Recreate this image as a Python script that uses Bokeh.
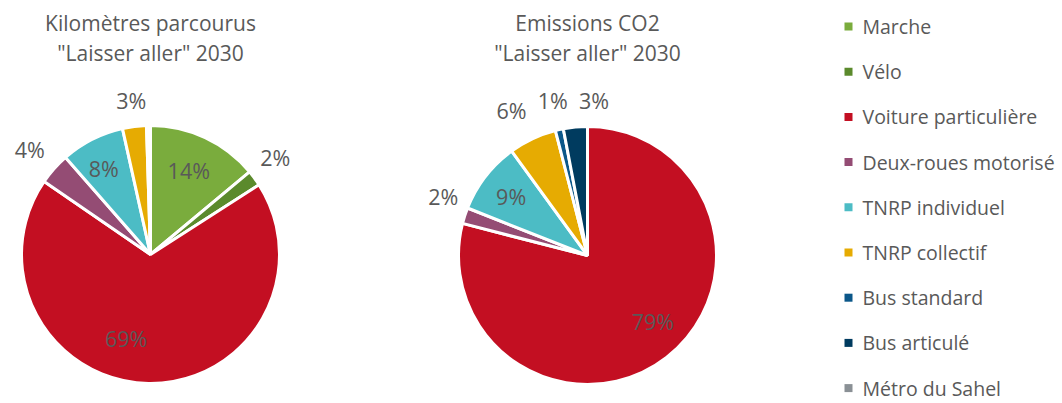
import math
from bokeh.plotting import figure
from bokeh.models import Range1d, ColumnDataSource
from bokeh.embed import file_html
from bokeh.resources import INLINE
from bokeh.core.properties import value

# ---------------- data ----------------
categories = ["Marche", "Vélo", "Voiture particulière", "Deux-roues motorisé",
              "TNRP individuel", "TNRP collectif", "Bus standard", "Bus articulé",
              "Métro du Sahel"]
km_2030 = [14, 2, 69, 4, 8, 3, 0.2, 0.3, 0]
co2_2030 = [0, 0, 79, 2, 9, 6, 1, 3, 0]
title_km = ["Kilomètres parcourus", "\"Laisser aller\" 2030"]
title_co2 = ["Emissions CO2", "\"Laisser aller\" 2030"]

# ---------------- style ----------------
colors = ["#7aac3d", "#5b8a2c", "#c30f22", "#944c74", "#4cbcc5",
          "#e6ab02", "#0b5789", "#003b5f", "#8a9095"]
text_color = "#595959"
FONT = "Open Sans"
W, H = 1062, 403
R = 129

p = figure(width=W, height=H, output_backend="svg", toolbar_location=None,
           x_range=Range1d(0, W), y_range=Range1d(0, H), min_border=0)
p.axis.visible = False
p.grid.visible = False
p.outline_line_color = None
p.background_fill_color = "white"
p.border_fill_color = "white"

# label nudges (pixels, screen coords: +dx right, +dy down) per category index
nudges_km = {0: (0, -2), 1: (0, -5), 2: (-23, -6), 3: (-5, -2), 4: (-6, -5)}
nudges_co2 = {2: (10, -5), 3: (3, -11), 4: (-5, -4), 5: (-10, -5),
              6: (-1, -4), 7: (21, -1)}


def draw_pie(vals, cx, cy_top, title, nudges):
    cy = H - cy_top
    total = float(sum(vals))
    cum = 0.0
    starts, ends, cols = [], [], []
    lx, ly, lt = [], [], []
    for i, v in enumerate(vals):
        f0 = cum / total
        cum += v
        f1 = cum / total
        if v <= 0:
            continue
        starts.append(math.pi / 2 - 2 * math.pi * f1)
        ends.append(math.pi / 2 - 2 * math.pi * f0)
        cols.append(colors[i])
        pct = round(v / total * 100)
        if pct >= 1:
            fm = (f0 + f1) / 2
            a = 2 * math.pi * fm
            rf = 0.7 if pct >= 8 else 1.2
            dx, dy = nudges.get(i, (0, 0))
            lx.append(cx + rf * R * math.sin(a) + dx)
            ly.append(cy + rf * R * math.cos(a) - dy)
            lt.append(f"{pct}%")
    src = ColumnDataSource(dict(start=starts, end=ends, color=cols))
    p.wedge(x=cx, y=cy, radius=R, start_angle="start", end_angle="end",
            fill_color="color", line_color="white", line_width=3, source=src)
    p.text(x=lx, y=ly, text=lt, text_align="center", text_baseline="middle",
           text_font=value(FONT), text_font_size="21.5px", text_color=text_color)
    p.text(x=[cx, cx], y=[H - 22, H - 52], text=title, text_align="center",
           text_baseline="middle", text_font=value(FONT), text_font_size="21px",
           text_color=text_color)


draw_pie(km_2030, 150, 254, title_km, nudges_km)
draw_pie(co2_2030, 587, 255, title_co2, nudges_co2)

# legend
leg_y = [H - (26 + 45.2 * i) for i in range(len(categories))]
p.scatter(x=[848] * len(categories), y=leg_y, marker="square", size=8,
          fill_color=colors, line_color=None)
p.text(x=[862] * len(categories), y=leg_y, text=categories, text_align="left",
       text_baseline="middle", text_font=value(FONT), text_font_size="19.5px",
       text_color=text_color)

open("out.html", "w").write(file_html(p, INLINE))
